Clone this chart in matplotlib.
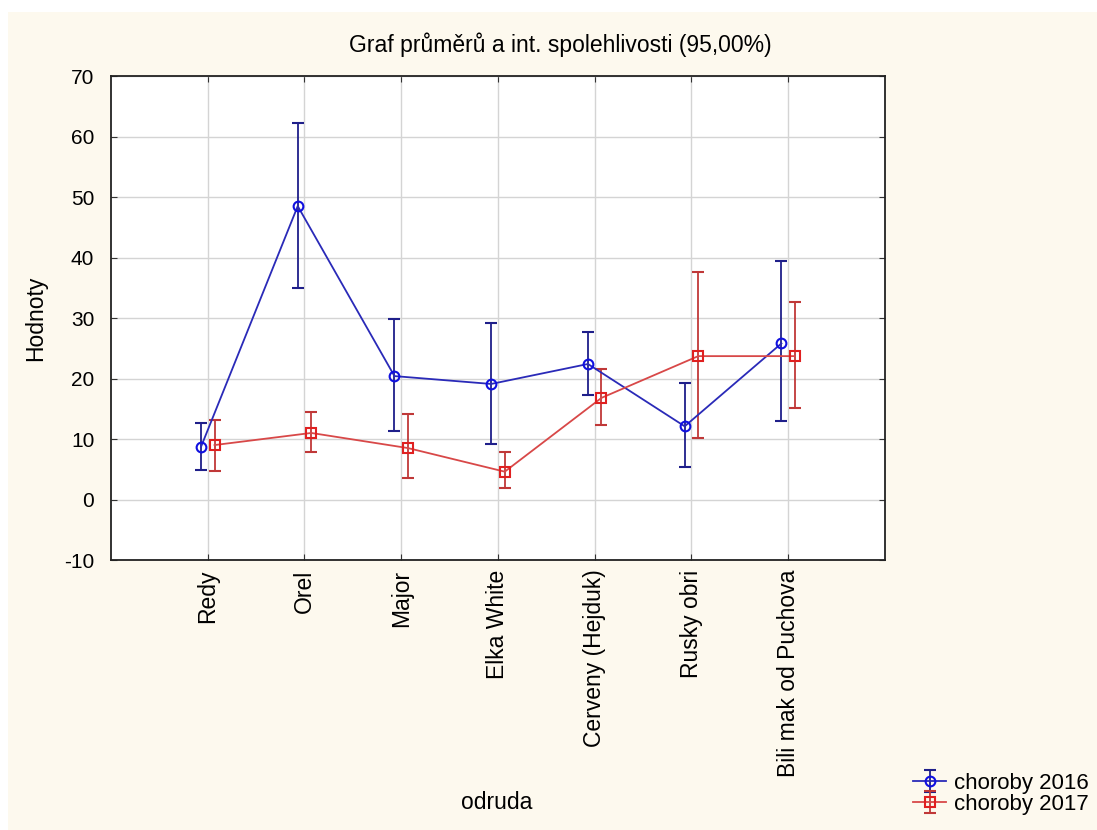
import matplotlib.pyplot as plt
from matplotlib.patches import Rectangle
import numpy as np

plt.rcParams['font.family'] = ['Liberation Sans', 'DejaVu Sans']
plt.rcParams['axes.unicode_minus'] = False

odrudy = ["Redy", "Orel", "Major", "Elka White", "Cerveny (Hejduk)",
          "Rusky obri", "Bili mak od Puchova"]

# choroby 2016: mean, lower, upper
m16 = [8.7, 48.5, 20.4, 19.1, 22.4, 12.1, 25.8]
lo16 = [4.9, 35.0, 11.3, 9.2, 17.3, 5.3, 12.9]
hi16 = [12.6, 62.2, 29.8, 29.2, 27.7, 19.3, 39.4]

# choroby 2017
m17 = [9.0, 11.0, 8.5, 4.6, 16.8, 23.7, 23.7]
lo17 = [4.7, 7.9, 3.6, 1.9, 12.3, 10.2, 15.2]
hi17 = [13.1, 14.5, 14.1, 7.9, 21.6, 37.6, 32.7]

fs = 16.5
fs_y = 15

fig = plt.figure(figsize=(10.97, 8.3), dpi=100, facecolor='white')
fig.patches.append(Rectangle((8 / 1097, 0), 1, 1 - 12 / 830, transform=fig.transFigure,
                             facecolor='#fdf9ee', edgecolor='none', zorder=-10))

ax = fig.add_axes([0.1012, 0.3253, 0.7055, 0.5831])
ax.set_facecolor('white')

x = np.arange(len(odrudy))
off = 0.07

m16, lo16, hi16 = map(np.array, (m16, lo16, hi16))
m17, lo17, hi17 = map(np.array, (m17, lo17, hi17))

ax.errorbar(x - off, m16, yerr=[m16 - lo16, hi16 - m16], color='#2a2ab8', ecolor='#1f1f8a',
            elinewidth=1.3, capsize=4, capthick=1.3, lw=1.3, marker='o', ms=7,
            mfc='none', mec='#1010e0', mew=1.5, label='choroby 2016', zorder=3)
ax.errorbar(x + off, m17, yerr=[m17 - lo17, hi17 - m17], color='#d84848', ecolor='#c03838',
            elinewidth=1.3, capsize=4, capthick=1.3, lw=1.3, marker='s', ms=7,
            mfc='none', mec='#e02020', mew=1.5, label='choroby 2017', zorder=3)

ax.set_xlim(-1, 7)
ax.set_ylim(-10, 70)
ax.set_yticks(range(-10, 71, 10))
ax.set_xticks(x)
ax.set_xticklabels(odrudy, rotation=90, fontsize=fs)
ax.tick_params(axis='y', labelsize=fs_y, pad=12)
ax.tick_params(axis='x', pad=7)
ax.tick_params(direction='in', top=True, right=True, length=4, color='#333333')
ax.grid(True, color='#d4d4d4', lw=1)
ax.set_axisbelow(True)
for s in ax.spines.values():
    s.set_linewidth(1.3)
    s.set_color('#222222')

ax.set_ylabel("Hodnoty", fontsize=fs, labelpad=12)
fig.text(497 / 1097, 1 - 802 / 830, "odruda", fontsize=fs, ha='center', va='center')
fig.text(560 / 1097, 1 - 45 / 830, "Graf průměrů a int. spolehlivosti (95,00%)",
         fontsize=fs, ha='center', va='center')

fig.legend(loc='upper left', bbox_to_anchor=(913 / 1097, 1 - 773 / 830), frameon=False,
           fontsize=16, handlelength=1.5, handletextpad=0.35, labelspacing=0.0,
           borderpad=0, borderaxespad=0)

fig.savefig("out.png", dpi=100, facecolor=fig.get_facecolor())
